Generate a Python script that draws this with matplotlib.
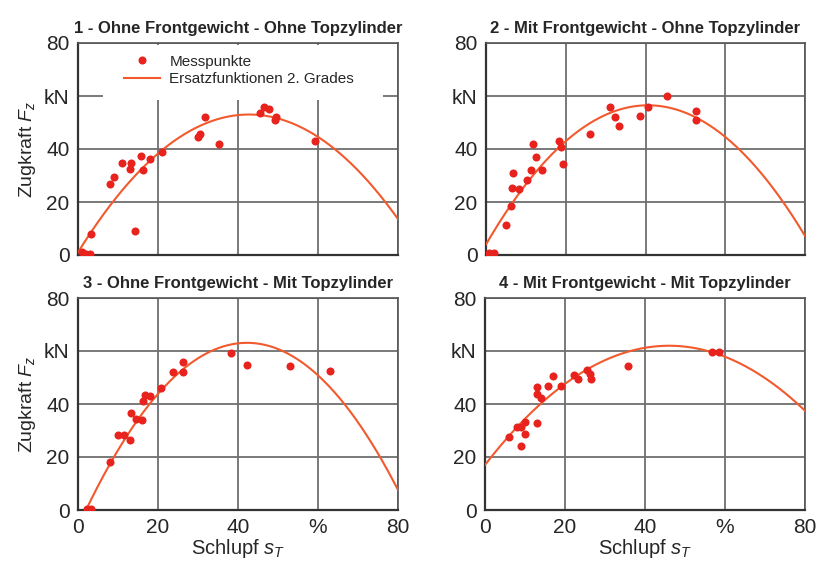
import matplotlib.pyplot as plt
from matplotlib.patches import Rectangle
import numpy as np

plt.rcParams['font.family'] = ['Liberation Sans', 'DejaVu Sans']
plt.rcParams['mathtext.fontset'] = 'custom'
plt.rcParams['mathtext.it'] = 'Liberation Sans:italic'
plt.rcParams['mathtext.rm'] = 'Liberation Sans'

titles = ["1 - Ohne Frontgewicht - Ohne Topzylinder",
          "2 - Mit Frontgewicht - Ohne Topzylinder",
          "3 - Ohne Frontgewicht - Mit Topzylinder",
          "4 - Mit Frontgewicht - Mit Topzylinder"]

# Messpunkte: Schlupf in %, Zugkraft in kN
slip_1 = [1.0, 2.0, 3.0, 3.3, 8.1, 9.0, 11.1, 13.2, 12.9, 14.2, 15.8, 16.3,
          18.1, 21.1, 30.0, 30.4, 31.8, 35.3, 45.6, 46.4, 47.8, 49.2, 49.6, 59.2]
force_1 = [1.0, 0.5, 0.3, 7.9, 26.7, 29.6, 34.6, 34.6, 32.4, 8.9, 37.2, 32.1,
           36.1, 39.0, 44.7, 45.6, 51.9, 41.9, 53.5, 55.8, 55.2, 51.0, 52.0, 43.2]

slip_2 = [0.8, 2.0, 5.0, 6.2, 6.7, 6.4, 8.4, 10.4, 11.2, 11.7, 12.5, 14.1,
          18.4, 18.8, 19.2, 26.2, 31.2, 32.4, 33.4, 38.5, 40.6, 45.3, 52.7, 52.7]
force_2 = [0.6, 0.6, 11.2, 18.6, 31.1, 25.1, 24.8, 28.2, 32.0, 41.8, 36.9, 31.9,
           43.2, 40.9, 34.5, 45.7, 55.9, 52.0, 48.7, 52.6, 55.7, 60.1, 54.4, 51.0]

slip_3 = [2.3, 3.3, 8.1, 10.0, 11.4, 12.9, 13.3, 14.6, 16.1, 16.3, 16.8, 18.1,
          20.8, 23.8, 26.3, 26.3, 38.2, 42.3, 52.9, 62.9]
force_3 = [0.3, 0.3, 18.3, 28.4, 28.2, 26.6, 36.7, 34.5, 33.8, 41.3, 43.4, 42.9,
           46.1, 52.2, 52.2, 56.0, 59.4, 54.7, 54.2, 52.5]

slip_4 = [6.1, 8.1, 8.9, 9.0, 10.0, 10.0, 12.9, 13.1, 12.9, 14.0, 15.8, 16.9,
          18.9, 22.3, 23.3, 25.6, 26.3, 26.5, 35.8, 56.7, 58.6]
force_4 = [27.7, 31.2, 31.5, 24.3, 33.2, 28.7, 32.7, 46.6, 43.7, 42.2, 46.9, 50.7,
           46.9, 50.9, 49.6, 52.9, 51.2, 49.6, 54.4, 59.6, 59.6]

# Ersatzfunktionen 2. Grades: F = a0 + a1*s + a2*s^2
coef_1 = [1.0, 2.433, -0.02845]
coef_2 = [4.0, 2.584, -0.0318]
coef_3 = [-6.43, 3.291, -0.03895]
coef_4 = [17.0, 1.955, -0.02124]

slips = [slip_1, slip_2, slip_3, slip_4]
forces = [force_1, force_2, force_3, force_4]
coefs = [coef_1, coef_2, coef_3, coef_4]

ticks = [0, 20, 40, 60, 80]
xticklabels = ["0", "20", "40", "%", "80"]
yticklabels = ["0", "20", "40", "kN", "80"]

dot_red = '#e8231e'
line_red = '#f25a2e'
txt = '#262626'
grid_c = '#6e6e6e'

fig = plt.figure(figsize=(8.19, 5.65), dpi=100)
W, H = 819.0, 565.0
boxes = [(78, 43, 398, 255), (486, 43, 805, 255),
         (78, 298, 398, 510), (485, 298, 805, 510)]

s = np.linspace(0, 80, 300)
for i in range(4):
    x0, y0, x1, y1 = boxes[i]
    ax = fig.add_axes([x0 / W, 1 - y1 / H, (x1 - x0) / W, (y1 - y0) / H])
    ax.set_xlim(0, 80)
    ax.set_ylim(0, 80)
    ax.set_xticks(ticks)
    ax.set_yticks(ticks)
    ax.grid(True, color=grid_c, lw=1.3)
    ax.set_axisbelow(True)
    for sp in ax.spines.values():
        sp.set_color('#555555')
        sp.set_linewidth(1.2)
    ax.spines['bottom'].set_color('#333333')
    ax.spines['bottom'].set_linewidth(1.6)
    ax.spines['left'].set_color('#333333')
    ax.spines['left'].set_linewidth(1.6)
    ax.tick_params(length=0, labelsize=15, colors=txt, pad=6)

    c = coefs[i]
    F = c[0] + c[1] * s + c[2] * s ** 2
    ax.plot(s, F, color=line_red, lw=1.5, zorder=3,
            label="Ersatzfunktionen 2. Grades")
    ax.plot(slips[i], forces[i], 'o', color=dot_red, ms=5.8, mew=0, zorder=4,
            label="Messpunkte")

    ax.set_yticklabels(yticklabels)
    if i >= 2:
        ax.set_xticklabels(xticklabels)
        ax.set_xlabel("Schlupf $s_T$", fontsize=14.5, color=txt, labelpad=0)
    else:
        ax.set_xticklabels([])
    if i % 2 == 0:
        ax.set_ylabel("Zugkraft $F_z$", fontsize=14, color=txt, labelpad=4)
    ax.set_title(titles[i], fontsize=12, fontweight='bold', color=txt, pad=7)

    if i == 0:
        # white field behind the legend hides the grid there
        ax.add_patch(Rectangle((6.3, 58.4), 70, 20.8, facecolor='white',
                               edgecolor='none', zorder=1.5))
        h, l = ax.get_legend_handles_labels()
        leg = ax.legend(h[::-1], l[::-1], loc='upper left',
                        bbox_to_anchor=(0.144, 0.945), frameon=False,
                        fontsize=11, handlelength=2.36, borderpad=0,
                        borderaxespad=0, labelspacing=0.25,
                        handletextpad=0.6)
        for t in leg.get_texts():
            t.set_color(txt)

fig.savefig("out.png", dpi=100)
